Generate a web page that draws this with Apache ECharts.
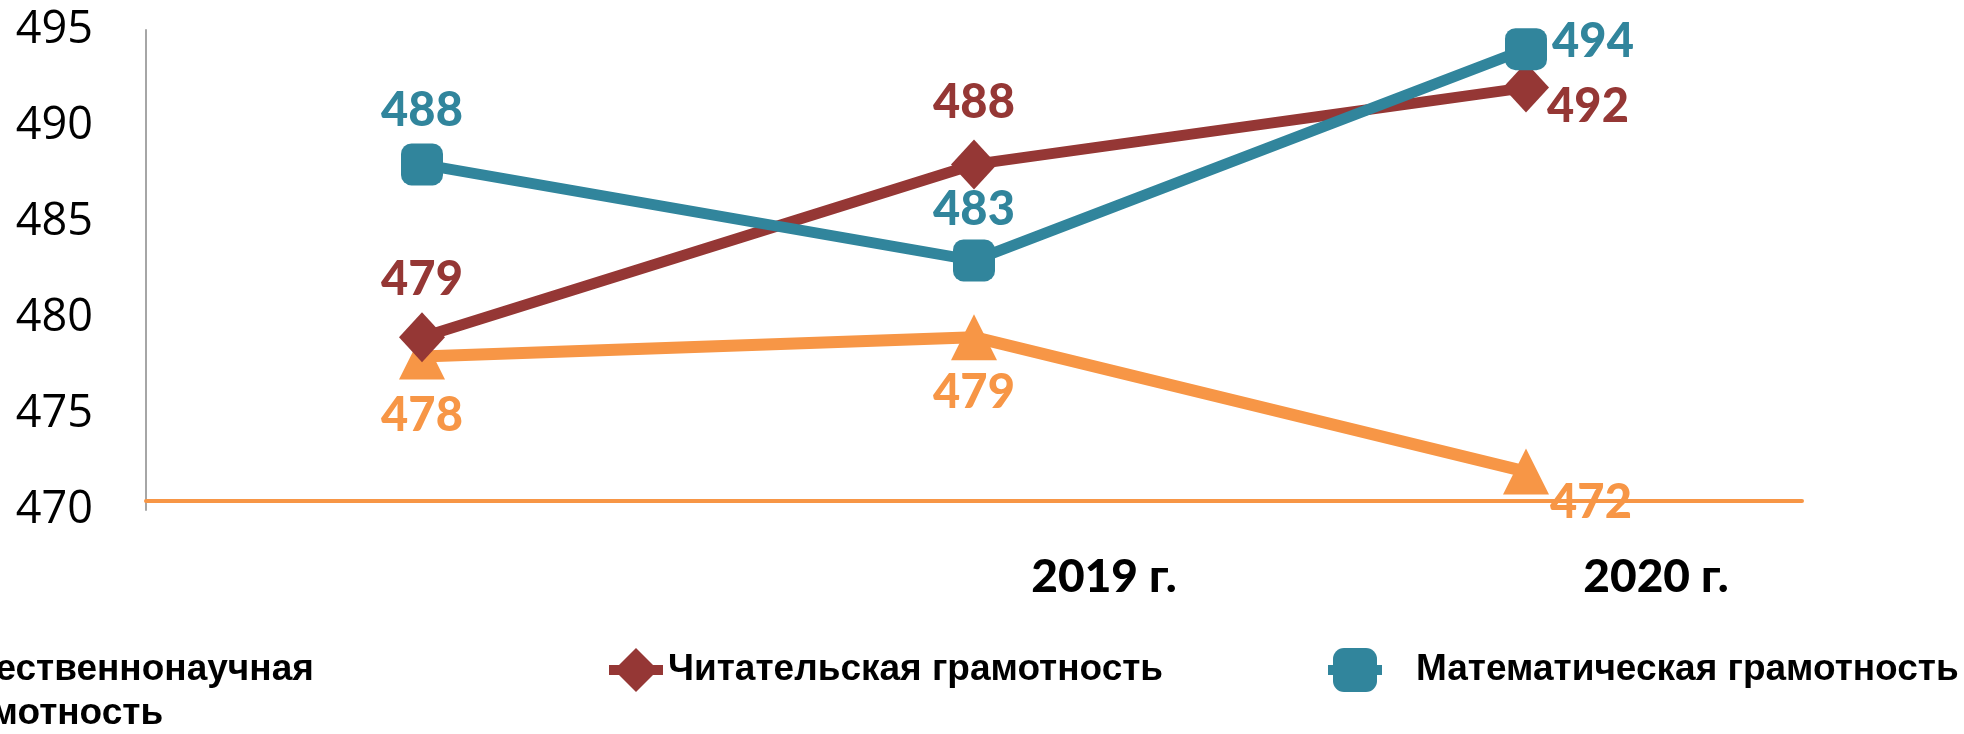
<!DOCTYPE html>
<html>
<head>
<meta charset="utf-8">
<script src="https://cdn.jsdelivr.net/npm/echarts@6/dist/echarts.min.js"></script>
<style>
  html, body { margin: 0; padding: 0; background: #fff; }
  #chart { width: 1964px; height: 734px; }
</style>
</head>
<body>
<div id="chart"></div>
<script>
// categories (first one has no visible label in the source)
const categories = ["", "2019 г.", "2020 г."];

const scienceName = "Естественнонаучная грамотность";
const readingName = "Читательская грамотность";
const mathName = "Математическая грамотность";

const scienceScores = [478, 479, 472];
const readingScores = [479, 488, 492];
const mathScores = [488, 483, 494];

const orange = "#F79646";
const red = "#953735";
const teal = "#31859C";

function lineSeries(name, values, color, symbol, symbolSize, width, offsets) {
  return {
    name: name,
    type: "line",
    data: values,
    symbol: symbol,
    symbolSize: symbolSize,
    showAllSymbol: true,
    lineStyle: { color: color, width: width },
    itemStyle: { color: color, opacity: 1 },
    label: {
      show: true,
      position: "inside",
      fontFamily: "Lato",
      fontWeight: 900,
      fontSize: 47,
      lineHeight: 47,
      color: color
    },
    labelLayout: function (p) {
      let o = offsets[p.dataIndex];
      return { dx: o[0], dy: o[1] };
    },
    emphasis: { disabled: true }
  };
}

const legendText = {
  fontFamily: "Liberation Sans",
  fontWeight: "bold",
  fontSize: 37,
  color: "#000"
};

const legendCommon = {
  itemWidth: 54,
  itemHeight: 55,
  lineStyle: { width: 10 }
};

let option = {
  backgroundColor: "#fff",
  animation: false,
  grid: { left: 146, right: 162, top: 30, bottom: 224 },
  legend: [
    Object.assign({
      data: [scienceName],
      left: -137,
      top: 643,
      formatter: n => n.replace(" ", "\n"),
      textStyle: Object.assign({ lineHeight: 44 }, legendText)
    }, legendCommon),
    Object.assign({
      data: [readingName],
      left: 599,
      top: 643,
      textStyle: legendText
    }, legendCommon),
    Object.assign({
      data: [mathName],
      left: 1318,
      top: 643,
      textStyle: Object.assign({ padding: [0, 0, 0, 29] }, legendText)
    }, legendCommon)
  ],
  xAxis: {
    type: "category",
    data: categories,
    boundaryGap: true,
    offset: -9,
    axisLine: { show: true, lineStyle: { color: orange, width: 4 } },
    axisTick: { show: false },
    splitLine: { show: false },
    axisLabel: {
      fontFamily: "Lato",
      fontWeight: 900,
      fontSize: 46,
      lineHeight: 46,
      color: "#000",
      margin: 53,
      padding: [0, 0, 0, 260]
    }
  },
  yAxis: {
    type: "value",
    min: 470,
    max: 495,
    interval: 5,
    axisLine: { show: true, lineStyle: { color: "#A6A6A6", width: 2 } },
    axisTick: { show: false },
    splitLine: { show: false },
    axisLabel: {
      fontFamily: "Open Sans",
      fontSize: 45,
      color: "#000",
      margin: 53
    }
  },
  series: [
    lineSeries(scienceName, scienceScores, orange, "triangle", [46, 46], 12,
      [[0, 59], [0, 56], [65, 31]]),
    lineSeries(readingName, readingScores, red, "diamond", [46, 50], 11,
      [[0, -57], [0, -62], [62, 19]]),
    lineSeries(mathName, mathScores, teal, "roundRect", [42, 42], 11,
      [[0, -54], [0, -51], [67, -7]])
  ]
};

let chart = echarts.init(document.getElementById("chart"));
chart.setOption(option);
</script>
</body>
</html>
